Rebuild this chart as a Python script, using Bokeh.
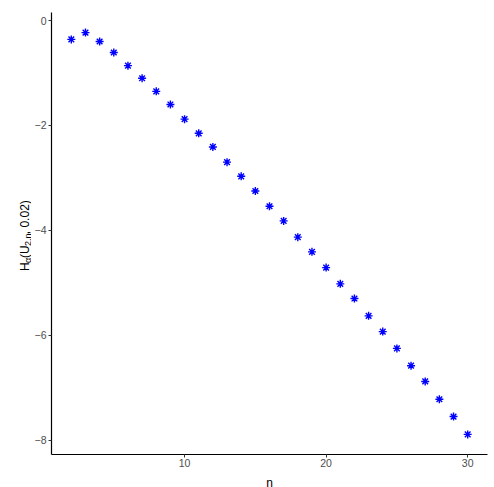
import math
from bokeh.plotting import figure
from bokeh.layouts import row, column
from bokeh.models import ColumnDataSource, Range1d, FixedTicker
from bokeh.core.properties import value
from bokeh.embed import file_html
from bokeh.resources import INLINE

n_values = list(range(2, 31))
h_values = [-0.36, -0.23, -0.40, -0.61, -0.86, -1.10, -1.35, -1.60, -1.88, -2.15,
            -2.41, -2.70, -2.97, -3.25, -3.54, -3.82, -4.13, -4.41, -4.71, -5.02,
            -5.30, -5.63, -5.93, -6.25, -6.58, -6.88, -7.22, -7.55, -7.89]
x_ticks = [10, 20, 30]
x_tick_labels = ["10", "20", "30"]
y_ticks = [-8, -6, -4, -2, 0]
y_tick_labels = ["\u22128", "\u22126", "\u22124", "\u22122", "0"]
x_title = "n"
y_title_pieces = ["H", "\u03b1", "(U", "2,n", ", 0.02)"]
y_title_is_sub = [False, True, False, True, False]

W = 490
H = 470      # main row height
BH = 17      # strip below for the x title
LW = 31
font = "Liberation Sans"


def blank(width, height, xr, yr):
    f = figure(width=width, height=height, output_backend="svg", toolbar_location=None,
               x_range=Range1d(*xr), y_range=Range1d(*yr),
               x_axis_location=None, y_axis_location=None, min_border=0)
    f.outline_line_color = None
    f.xgrid.visible = False
    f.ygrid.visible = False
    f.border_fill_color = "white"
    f.background_fill_color = "white"
    return f


xpad = (max(n_values) - min(n_values)) * 0.05
ypad = (max(h_values) - min(h_values)) * 0.05

p = figure(width=W - LW, height=H, output_backend="svg", toolbar_location=None,
           x_range=Range1d(min(n_values) - xpad, max(n_values) + xpad),
           y_range=Range1d(min(h_values) - ypad, max(h_values) + ypad),
           min_border_left=51 - LW, min_border_right=3, min_border_top=12,
           min_border_bottom=16)
p.outline_line_color = None
p.xgrid.visible = False
p.ygrid.visible = False
p.background_fill_color = "white"
p.border_fill_color = "white"

src = ColumnDataSource(dict(n=n_values, h=h_values))
p.scatter("n", "h", source=src, marker="asterisk", size=8, line_color="#0000FF",
          line_width=1.4)

p.xaxis.ticker = FixedTicker(ticks=x_ticks)
p.xaxis.major_label_overrides = dict(zip(x_ticks, x_tick_labels))
p.yaxis.ticker = FixedTicker(ticks=y_ticks)
p.yaxis.major_label_overrides = dict(zip(y_ticks, y_tick_labels))
for ax in (p.xaxis, p.yaxis):
    ax.axis_line_color = "black"
    ax.axis_line_width = 1.2
    ax.major_tick_line_color = "#333333"
    ax.major_tick_out = 3
    ax.major_tick_in = 0
    ax.minor_tick_line_color = None
    ax.major_label_text_font = font
    ax.major_label_text_font_size = "10.5px"
    ax.major_label_text_color = "#4D4D4D"
    ax.major_label_standoff = 2
p.xaxis.major_label_standoff = 1

# narrow figure holding the y-axis title (with subscripts)
lab = blank(LW, H, (0, LW), (0, H))
widths = {"H": 0.722, "\u03b1": 0.6, "(": 0.333, "U": 0.722, "2": 0.556, ",": 0.278,
          "n": 0.556, " ": 0.278, "0": 0.556, ".": 0.278, ")": 0.333}
xs, ys, sizes = [], [], []
y0 = H - 275
for txt, sub in zip(y_title_pieces, y_title_is_sub):
    fs = 9 if sub else 12
    xs.append(24.5 + (2.5 if sub else 0))
    ys.append(y0)
    sizes.append(f"{fs}px")
    y0 += sum(widths[c] for c in txt) * fs
tsrc = ColumnDataSource(dict(x=xs, y=ys, t=y_title_pieces, fs=sizes))
lab.text("x", "y", text="t", source=tsrc, angle=math.pi / 2, text_font=value(font),
         text_font_size="fs", text_color="black", text_align="left",
         text_baseline="alphabetic")

# strip below holding the x-axis title
bottom = blank(W, BH, (0, W), (0, BH))
bottom.text([269], [5], text=[x_title], text_font=value(font), text_font_size="12px",
            text_color="black", text_align="center", text_baseline="alphabetic")

layout = column(row(lab, p, spacing=0), bottom, spacing=0)
open("out.html", "w").write(file_html(layout, INLINE))
